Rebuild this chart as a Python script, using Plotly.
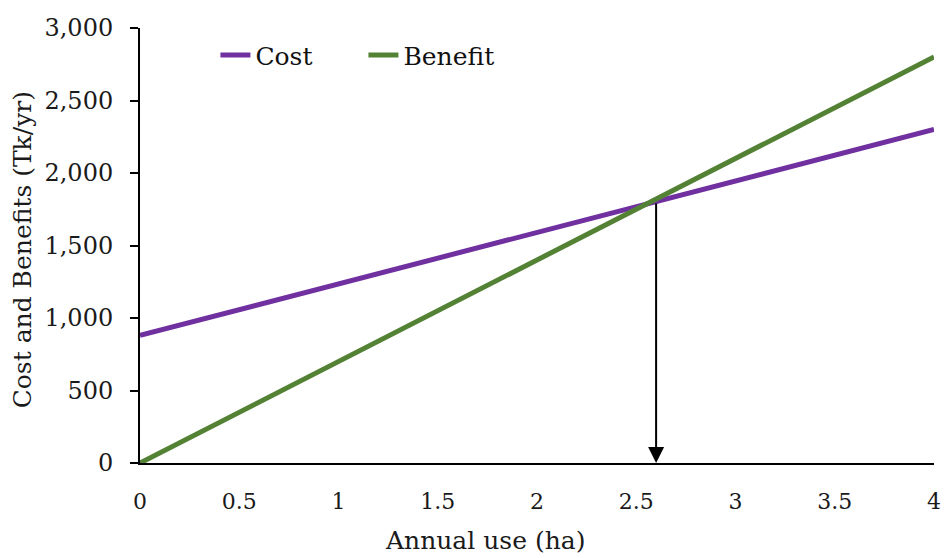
import plotly.graph_objects as go

# Annual use (ha) and the corresponding yearly cost / benefit (Tk/yr)
use_ha = [0, 4]
cost = [880, 2300]
benefit = [0, 2800]

# Break-even marker: arrow dropped from the crossing point to the x axis
breakeven_x = 2.6
breakeven_y = 1800

x_ticks = [0, 0.5, 1, 1.5, 2, 2.5, 3, 3.5, 4]
x_tick_labels = ["0", "0.5", "1", "1.5", "2", "2.5", "3", "3.5", "4"]
y_ticks = [0, 500, 1000, 1500, 2000, 2500, 3000]

FONT = "DejaVu Serif"
PURPLE = "#7030A0"
GREEN = "#548235"

fig = go.Figure()
fig.add_trace(go.Scatter(x=use_ha, y=cost, mode="lines", name="Cost",
                         line=dict(color=PURPLE, width=5)))
fig.add_trace(go.Scatter(x=use_ha, y=benefit, mode="lines", name="Benefit",
                         line=dict(color=GREEN, width=5)))

fig.add_annotation(x=breakeven_x, y=0, ax=breakeven_x, ay=breakeven_y,
                   xref="x", yref="y", axref="x", ayref="y",
                   showarrow=True, arrowhead=2, arrowsize=1.6, arrowwidth=2,
                   arrowcolor="black", text="")

fig.update_layout(
    width=944, height=558,
    margin=dict(l=140, r=10, t=28, b=95, autoexpand=False),
    paper_bgcolor="white", plot_bgcolor="white",
    font=dict(family=FONT, size=24, color="#1a1a1a"),
    showlegend=True,
    legend=dict(orientation="h", x=0.095, y=0.99, xanchor="left", yanchor="top",
                bgcolor="rgba(0,0,0,0)", font=dict(size=25, color="#111111"),
                entrywidth=103, entrywidthmode="pixels", tracegroupgap=0),
)

fig.update_xaxes(range=[0, 4], tickvals=x_ticks, ticktext=x_tick_labels,
                 showgrid=False, zeroline=False, showline=True,
                 linecolor="black", linewidth=2, ticks="", automargin=False,
                 ticklabelstandoff=18, tickfont=dict(size=22))
fig.update_yaxes(range=[0, 3000], tickvals=y_ticks, tickformat=",",
                 showgrid=False, zeroline=False, showline=True,
                 linecolor="black", linewidth=2, ticks="outside",
                 ticklen=8, tickwidth=2, tickcolor="black", automargin=False,
                 ticklabelstandoff=12, tickfont=dict(size=24))

# Axis titles
fig.add_annotation(text="Annual use (ha)", xref="paper", yref="paper",
                   x=0.434, y=-0.179, xanchor="center", yanchor="middle",
                   showarrow=False, font=dict(size=25))
fig.add_annotation(text="Cost and Benefits (Tk/yr)", xref="paper", yref="paper",
                   x=-0.148, y=0.49, xanchor="center", yanchor="middle",
                   textangle=-90, showarrow=False, font=dict(size=25))

fig.write_html("out.html")
